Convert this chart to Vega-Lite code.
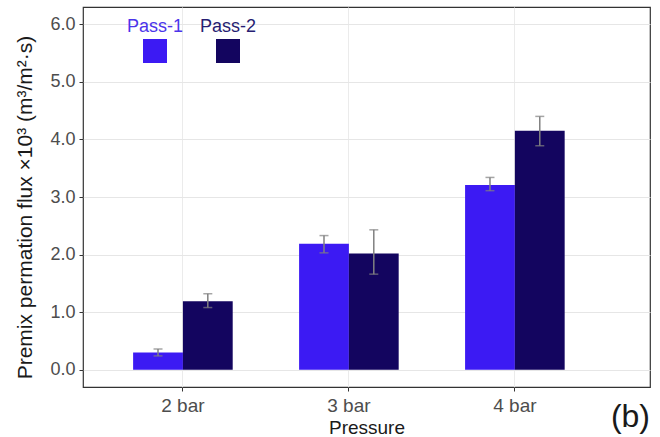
{
  "$schema": "https://vega.github.io/schema/vega-lite/v6.json",
  "width": 567,
  "height": 380,
  "autosize": {"type": "none"},
  "padding": {"left": 83, "top": 7, "right": 10, "bottom": 50},
  "background": "white",
  "config": {
    "font": "Liberation Sans",
    "view": {"stroke": "#333333", "strokeWidth": 1.2}
  },
  "title": {
    "text": "(b)",
    "orient": "bottom",
    "anchor": "end",
    "fontSize": 32,
    "fontWeight": "normal",
    "color": "#1a1a1a",
    "offset": -35
  },
  "data": {
    "values": [
      {"pressure": "2 bar", "pass": "Pass-1", "flux": 0.30, "lo": 0.24, "hi": 0.36},
      {"pressure": "2 bar", "pass": "Pass-2", "flux": 1.19, "lo": 1.08, "hi": 1.32},
      {"pressure": "3 bar", "pass": "Pass-1", "flux": 2.19, "lo": 2.03, "hi": 2.33},
      {"pressure": "3 bar", "pass": "Pass-2", "flux": 2.02, "lo": 1.66, "hi": 2.43},
      {"pressure": "4 bar", "pass": "Pass-1", "flux": 3.21, "lo": 3.11, "hi": 3.34},
      {"pressure": "4 bar", "pass": "Pass-2", "flux": 4.15, "lo": 3.89, "hi": 4.40}
    ]
  },
  "encoding": {
    "x": {
      "field": "pressure",
      "type": "nominal",
      "sort": ["2 bar", "3 bar", "4 bar"],
      "scale": {"paddingInner": 0.4, "paddingOuter": 0.408, "align": 0.37},
      "axis": {
        "title": "Pressure",
        "labelAngle": 0,
        "labelFontSize": 19,
        "labelColor": "#4d4d4d",
        "labelPadding": 5,
        "tickColor": "#333333",
        "tickSize": 4,
        "domain": false,
        "grid": true,
        "gridColor": "#ebebeb",
        "titleFontSize": 19,
        "titleFontWeight": "normal",
        "titleColor": "#1a1a1a",
        "titlePadding": 3
      }
    },
    "xOffset": {
      "field": "pass",
      "type": "nominal",
      "scale": {"paddingInner": 0, "paddingOuter": 0}
    }
  },
  "layer": [
    {
      "mark": {"type": "bar"},
      "encoding": {
        "y": {
          "field": "flux",
          "type": "quantitative",
          "scale": {"domain": [-0.3, 6.3], "nice": false, "zero": false},
          "axis": {
            "title": "Premix permation flux ×10³ (m³/m²·s)",
            "values": [0, 0.5, 1, 1.5, 2, 2.5, 3, 3.5, 4, 4.5, 5, 5.5, 6],
            "labelExpr": "datum.value % 1 === 0 ? format(datum.value, '.1f') : ''",
            "labelFontSize": 18,
            "labelColor": "#4d4d4d",
            "labelPadding": 4,
            "tickSize": 4,
            "tickColor": {"condition": {"test": "datum.value % 1 !== 0", "value": "transparent"}, "value": "#333333"},
            "domain": false,
            "grid": true,
            "gridColor": {"condition": {"test": "datum.value % 1 !== 0", "value": "#f2f2f2"}, "value": "#e6e6e6"},
            "titleFontSize": 21,
            "titleFontWeight": "normal",
            "titleColor": "#1a1a1a",
            "titleX": -48,
            "titleY": 200
          }
        },
        "color": {
          "field": "pass",
          "type": "nominal",
          "scale": {"domain": ["Pass-1", "Pass-2"], "range": ["#3c1af3", "#13055f"]},
          "legend": {
            "title": null,
            "orient": "none",
            "legendX": 60,
            "legendY": 32,
            "direction": "horizontal",
            "symbolType": "square",
            "symbolSize": 576,
            "symbolStrokeWidth": 0,
            "symbolOpacity": 1,
            "labelAlign": "center",
            "labelOffset": -12,
            "labelFontSize": 18,
            "labelColor": {"expr": "datum.value === 'Pass-1' ? '#4b34ea' : '#261d72'"},
            "columnPadding": 15,
            "encoding": {
              "labels": {
                "dy": {"value": -24}
              }
            }
          }
        }
      }
    },
    {
      "mark": {"type": "rule", "color": "#808080", "strokeWidth": 1.5},
      "encoding": {
        "y": {"field": "lo", "type": "quantitative"},
        "y2": {"field": "hi"}
      }
    },
    {
      "mark": {"type": "tick", "color": "#808080", "thickness": 1.5, "size": 9},
      "encoding": {"y": {"field": "lo", "type": "quantitative"}}
    },
    {
      "mark": {"type": "tick", "color": "#808080", "thickness": 1.5, "size": 9},
      "encoding": {"y": {"field": "hi", "type": "quantitative"}}
    }
  ]
}
